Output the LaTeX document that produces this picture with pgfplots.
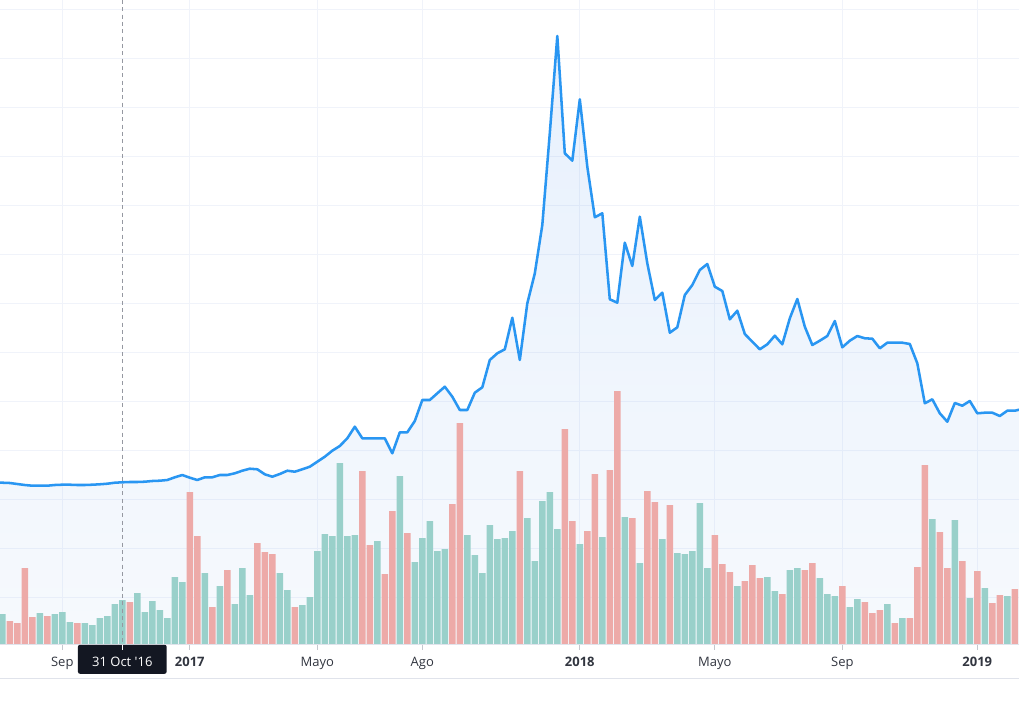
\documentclass[border=0pt]{standalone}
\usepackage{pgfplots}
\pgfplotsset{compat=1.18}
\usepackage{fontspec}
\setmainfont{Open Sans}
\definecolor{linec}{RGB}{41,150,242}
\definecolor{greenc}{RGB}{153,208,202}
\definecolor{redc}{RGB}{237,170,168}
\definecolor{gridc}{RGB}{240,243,250}
\definecolor{axisc}{RGB}{224,227,235}
\definecolor{tickc}{RGB}{196,199,206}
\definecolor{labc}{RGB}{50,54,64}
\definecolor{boldc}{RGB}{19,23,34}
\definecolor{boxc}{RGB}{19,23,34}
\definecolor{dashc}{RGB}{149,152,161}
\definecolor{filltop}{RGB}{25,115,235}
\definecolor{fillbot}{RGB}{175,205,245}
\begin{document}
\begin{tikzpicture}[x=0.75pt,y=0.75pt]
\useasboundingbox (0,0) rectangle (1019,715);
\fill[white] (0,0) rectangle (1019,715);
\begin{axis}[
  at={(0,70.5)}, anchor=south west,
  scale only axis, width=764.25pt, height=483.375pt,
  xmin=-0.307, xmax=135.56, ymin=0, ymax=644.5,
  axis line style={draw=none},
  xtick={8,25,42,56,77,95,112,130},
  xticklabels={Sep,\textbf{2017},Mayo,Ago,\textbf{2018},Mayo,Sep,\textbf{2019}},
  ytick={47.2,96.2,145.2,194.2,243.2,292.2,341.2,390.2,439.2,488.2,537.2,586.2,635.2},
  yticklabels={},
  xmajorgrids, ymajorgrids,
  grid style={color=gridc, line width=0.75pt},
  xtick pos=left,
  tick align=outside, major tick length=3.75pt,
  xtick style={color=tickc, line width=0.75pt},
  ytick style={draw=none},
  xticklabel style={anchor=base, yshift=-16.65pt+3.75pt, font=\fontsize{9.75}{12}\selectfont, text=labc},
]
\addplot[draw=none, top color=filltop, bottom color=fillbot, fill opacity=0.1] coordinates {
(-1,161.8)(0,161.8)(1,161.5)(2,160.5)(3,159.5)(4,158.8)(5,158.8)(6,158.8)(7,159.5)(8,159.8)(9,159.8)(10,159.5)(11,159.5)(12,159.8)(13,160.2)(14,160.8)(15,161.8)(16,162.2)(17,162.5)(18,162.5)(19,162.8)(20,163.5)(21,163.8)(22,164.5)(23,167.2)(24,169.5)(25,166.8)(26,164.5)(27,167.2)(28,167.2)(29,169.5)(30,169.5)(31,171.2)(32,173.8)(33,175.8)(34,175.2)(35,170.2)(36,167.8)(37,170.5)(38,173.8)(39,172.8)(40,175.2)(41,177.8)(42,182.8)(43,187.8)(44,193.8)(45,198.5)(46,206.2)(47,217.8)(48,206.2)(49,206.2)(50,206.2)(51,206.2)(52,191.2)(53,212.2)(54,212.2)(55,223.5)(56,244.5)(57,244.5)(58,251.2)(59,257.8)(60,247.8)(61,234.5)(62,234.5)(63,251.8)(64,257.2)(65,284.5)(66,291.2)(67,295.2)(68,326.8)(69,284.5)(70,341.2)(71,371.2)(72,419.5)(73,511.5)(74,608.5)(75,491.2)(76,483.8)(77,545.2)(78,477.8)(79,427.2)(80,431.2)(81,345.2)(82,341.8)(83,401.8)(84,378.5)(85,427.8)(86,381.2)(87,344.5)(88,351.8)(89,311.8)(90,317.2)(91,349.5)(92,359.5)(93,374.5)(94,380.5)(95,357.8)(96,353.5)(97,325.2)(98,333.8)(99,310.5)(100,302.8)(101,295.2)(102,300.2)(103,308.8)(104,300.2)(105,326.2)(106,345.5)(107,317.8)(108,299.5)(109,303.8)(110,308.5)(111,323.5)(112,297.2)(113,303.8)(114,308.5)(115,306.2)(116,305.8)(117,296.2)(118,301.8)(119,301.8)(120,301.8)(121,300.5)(122,281.2)(123,241.2)(124,245.2)(125,231.2)(126,222.8)(127,241.5)(128,238.8)(129,243.5)(130,231.2)(131,231.8)(132,231.8)(133,228.5)(134,233.8)(135,233.8)(136,235.5)
} \closedcycle;
\addplot[ybar, bar width=0.88, bar shift=0pt, fill=greenc, draw=none] coordinates {
(0,30.5)(5,31.5)(7,30.5)(8,32.5)(9,22.5)(11,21.5)(12,19.5)(13,26.5)(14,28.5)(15,40.5)(16,44.5)(18,51.5)(19,32.5)(20,43.5)(21,34.5)(22,26.5)(23,67.5)(24,62.5)(27,71.5)(29,58.5)(31,40.5)(32,76.5)(33,49.5)(37,71.5)(38,54.5)(40,39.5)(41,47.5)(42,93.5)(43,110.5)(44,108.5)(45,181.5)(46,108.5)(47,109.5)(50,103.5)(53,168.5)(55,82.5)(56,106.5)(57,123.5)(58,93.5)(59,95.5)(62,109.5)(63,89.5)(64,71.5)(65,119.5)(66,105.5)(67,106.5)(68,113.5)(70,126.5)(71,83.5)(72,143.5)(73,152.5)(74,115.5)(77,100.5)(80,107.5)(83,127.5)(85,81.5)(88,105.5)(90,91.5)(91,90.5)(92,93.5)(93,141.5)(94,76.5)(98,58.5)(102,67.5)(103,53.5)(105,74.5)(106,76.5)(109,66.5)(110,50.5)(111,48.5)(113,37.5)(114,45.5)(118,40.5)(120,26.5)(124,125.5)(127,124.5)(129,46.5)(131,56.5)(134,48.5)
};
\addplot[ybar, bar width=0.88, bar shift=0pt, fill=redc, draw=none] coordinates {
(1,23.5)(2,21.5)(3,76.5)(4,27.5)(6,28.5)(10,21.5)(17,42.5)(25,152.5)(26,108.5)(28,37.5)(30,74.5)(34,101.5)(35,92.5)(36,90.5)(39,37.5)(48,173.5)(49,99.5)(51,70.5)(52,133.5)(54,111.5)(60,140.5)(61,221.5)(69,173.5)(75,215.5)(76,123.5)(78,113.5)(79,170.5)(81,174.5)(82,253.5)(84,126.5)(86,153.5)(87,142.5)(89,139.5)(95,109.5)(96,80.5)(97,72.5)(99,63.5)(100,79.5)(101,66.5)(104,50.5)(107,74.5)(108,81.5)(112,58.5)(115,42.5)(116,31.5)(117,34.5)(119,21.5)(121,26.5)(122,77.5)(123,179.5)(125,112.5)(126,76.5)(128,83.5)(130,73.5)(132,41.5)(133,49.5)(135,55.5)
};
\addplot[color=linec, line width=1.9pt, line join=round, mark=none] coordinates {
(-1,161.8)(0,161.8)(1,161.5)(2,160.5)(3,159.5)(4,158.8)(5,158.8)(6,158.8)(7,159.5)(8,159.8)(9,159.8)(10,159.5)(11,159.5)(12,159.8)(13,160.2)(14,160.8)(15,161.8)(16,162.2)(17,162.5)(18,162.5)(19,162.8)(20,163.5)(21,163.8)(22,164.5)(23,167.2)(24,169.5)(25,166.8)(26,164.5)(27,167.2)(28,167.2)(29,169.5)(30,169.5)(31,171.2)(32,173.8)(33,175.8)(34,175.2)(35,170.2)(36,167.8)(37,170.5)(38,173.8)(39,172.8)(40,175.2)(41,177.8)(42,182.8)(43,187.8)(44,193.8)(45,198.5)(46,206.2)(47,217.8)(48,206.2)(49,206.2)(50,206.2)(51,206.2)(52,191.2)(53,212.2)(54,212.2)(55,223.5)(56,244.5)(57,244.5)(58,251.2)(59,257.8)(60,247.8)(61,234.5)(62,234.5)(63,251.8)(64,257.2)(65,284.5)(66,291.2)(67,295.2)(68,326.8)(69,284.5)(70,341.2)(71,371.2)(72,419.5)(73,511.5)(74,608.5)(75,491.2)(76,483.8)(77,545.2)(78,477.8)(79,427.2)(80,431.2)(81,345.2)(82,341.8)(83,401.8)(84,378.5)(85,427.8)(86,381.2)(87,344.5)(88,351.8)(89,311.8)(90,317.2)(91,349.5)(92,359.5)(93,374.5)(94,380.5)(95,357.8)(96,353.5)(97,325.2)(98,333.8)(99,310.5)(100,302.8)(101,295.2)(102,300.2)(103,308.8)(104,300.2)(105,326.2)(106,345.5)(107,317.8)(108,299.5)(109,303.8)(110,308.5)(111,323.5)(112,297.2)(113,303.8)(114,308.5)(115,306.2)(116,305.8)(117,296.2)(118,301.8)(119,301.8)(120,301.8)(121,300.5)(122,281.2)(123,241.2)(124,245.2)(125,231.2)(126,222.8)(127,241.5)(128,238.8)(129,243.5)(130,231.2)(131,231.8)(132,231.8)(133,228.5)(134,233.8)(135,233.8)(136,235.5)
};
\coordinate (oct) at (axis cs:16,0);
\coordinate (octtop) at (axis cs:16,644.5);
\end{axis}
\draw[axisc, line width=0.75pt] (0,70.5) -- (1019,70.5);
\draw[axisc, line width=0.75pt] (0,36.7) -- (1019,36.7);
\draw[dashc, line width=0.75pt, dash pattern=on 3pt off 2.5pt] (octtop) -- (oct);
\node[fill=boxc, anchor=north, minimum width=66.5pt, minimum height=21.75pt, inner sep=0pt, rounded corners=1.5pt] at (oct) {};
\draw[white, line width=0.75pt] (oct) -- ++(0,-5);
\node[anchor=base, text=white, inner sep=0pt, font=\fontsize{9.75}{12}\selectfont] at ([yshift=-16.65pt]oct) {31 Oct \textquotesingle16};
\end{tikzpicture}
\end{document}
